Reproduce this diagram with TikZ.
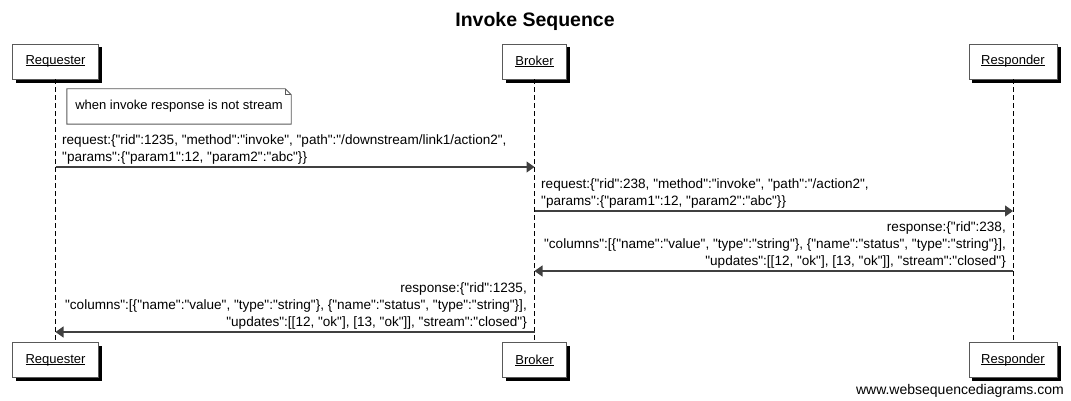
\documentclass[tikz,border=0pt]{standalone}
\usepackage{fontspec}
\setmainfont{Liberation Sans}[Ligatures=TeXOff]
\usetikzlibrary{arrows.meta,backgrounds}
\newcommand\ulin[1]{\setbox0\hbox{#1}\rlap{\rule[-1.3pt]{\wd0}{0.7pt}}\box0}
\begin{document}
\begin{tikzpicture}[x=1pt,y=-1pt,
  txt/.style={font=\fontsize{13}{16.5}\selectfont},
  mtxt/.style={font=\fontsize{13.55}{17}\selectfont},
  part/.style={txt, draw=black!65, line width=0.9pt, fill=white, minimum height=35pt, inner sep=0pt},
  shad/.style={fill=black},
  life/.style={draw=black, line width=0.8pt, dash pattern=on 5pt off 3pt},
  msg/.style={draw=black!75, line width=1.2pt, -{Triangle[length=8pt,width=11pt]}},
  lbl/.style={mtxt, inner sep=0pt},
  notebox/.style={draw=black!65, line width=0.9pt}
]
\useasboundingbox (0,0) rectangle (1071,401);

\node[font=\bfseries\fontsize{19.5}{22}\selectfont] (title) at (535,21) {Invoke Sequence};

% participants top
\node[part, minimum width=86pt] (rq1) at (55.5,61.5) {\ulin{Requester}};
\node[part, minimum width=64pt] (br1) at (534.5,61.5) {\ulin{Broker}};
\node[part, minimum width=88pt] (rs1) at (1013,61.5) {\ulin{Responder}};
% participants bottom
\node[part, minimum width=86pt] (rq2) at (55.5,360) {\ulin{Requester}};
\node[part, minimum width=64pt] (br2) at (534.5,360) {\ulin{Broker}};
\node[part, minimum width=88pt] (rs2) at (1013,360) {\ulin{Responder}};

\begin{scope}[on background layer]
  \foreach \n in {rq1,br1,rs1,rq2,br2,rs2}
    \fill[shad] ([shift={(3.5,3.5)}]\n.north west) rectangle ([shift={(3.5,3.5)}]\n.south east);
\end{scope}

% lifelines
\draw[life] (rq1.south) -- (rq2.north);
\draw[life] (br1.south) -- (br2.north);
\draw[life] (rs1.south) -- (rs2.north);

% note
\node[txt, inner sep=0pt, minimum width=224pt, minimum height=35pt] (note) at (179,106.5) {when invoke response is not stream};
\draw[notebox] (note.north west) -- ([xshift=-6pt]note.north east) -- ([yshift=-6pt]note.north east)
  -- (note.south east) -- (note.south west) -- cycle;
\draw[notebox] ([xshift=-6pt]note.north east) |- ([yshift=-6pt]note.north east);

% message 1
\draw[msg] (rq1.south |- 0,167) -- (br1.south |- 0,167);
\node[lbl, anchor=south west, align=left] (m1) at (62,165)
  {request:\{"rid":1235, "method":"invoke", "path":"/downstream/link1/action2",\\"params":\{"param1":12, "param2":"abc"\}\}};

% message 2
\draw[msg] (br1.south |- 0,211) -- (rs1.south |- 0,211);
\node[lbl, anchor=south west, align=left] (m2) at (541,209)
  {request:\{"rid":238, "method":"invoke", "path":"/action2",\\"params":\{"param1":12, "param2":"abc"\}\}};

% message 3
\draw[msg] (rs1.south |- 0,271) -- (br1.south |- 0,271);
\node[lbl, anchor=south east, align=right] (m3) at (1006,269)
  {response:\{"rid":238,\\"columns":[\{"name":"value", "type":"string"\}, \{"name":"status", "type":"string"\}],\\"updates":[[12, "ok"], [13, "ok"]], "stream":"closed"\}};

% message 4
\draw[msg] (br1.south |- 0,332) -- (rq1.south |- 0,332);
\node[lbl, anchor=south east, align=right] (m4) at (527,330)
  {response:\{"rid":1235,\\"columns":[\{"name":"value", "type":"string"\}, \{"name":"status", "type":"string"\}],\\"updates":[[12, "ok"], [13, "ok"]], "stream":"closed"\}};

\node[anchor=east, inner sep=0pt, font=\fontsize{14}{16}\selectfont] (foot) at (1064,391) {www.websequencediagrams.com};
\end{tikzpicture}
\end{document}
